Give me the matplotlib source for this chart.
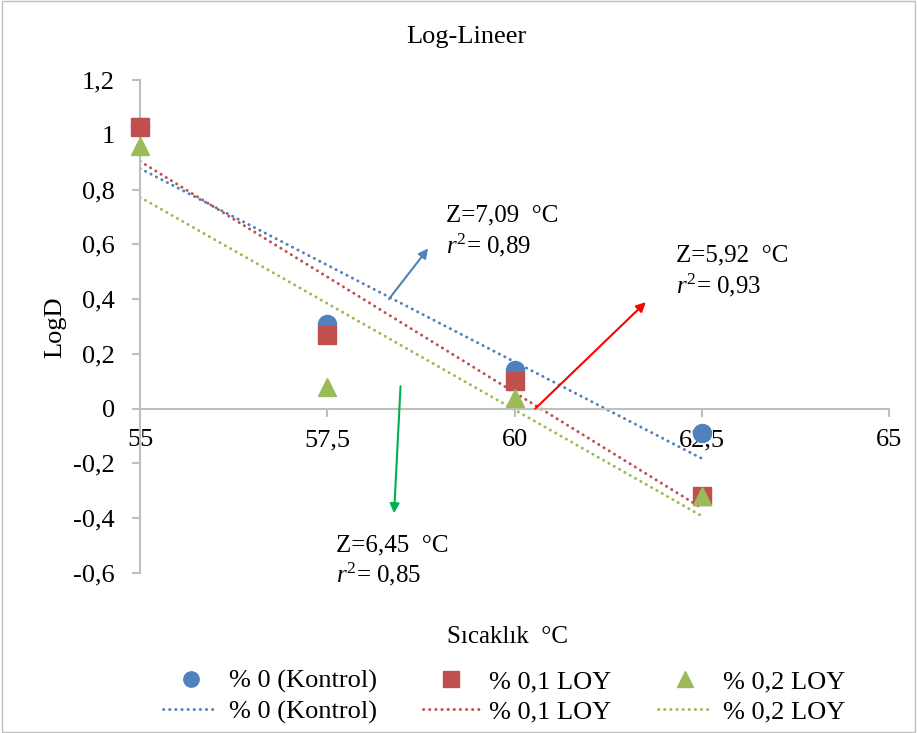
import matplotlib
matplotlib.use('Agg')
import matplotlib.pyplot as plt
from matplotlib.patches import Rectangle
from matplotlib.ticker import FuncFormatter
import numpy as np

plt.rcParams['font.family'] = ['Liberation Serif', 'DejaVu Serif']
plt.rcParams['mathtext.fontset'] = 'custom'
plt.rcParams['mathtext.it'] = 'Liberation Serif:italic'
plt.rcParams['mathtext.rm'] = 'Liberation Serif'

temps = [55, 57.5, 60, 62.5]
logd_kontrol = [1.03, 0.31, 0.14, -0.09]
logd_loy01 = [1.03, 0.27, 0.10, -0.32]
logd_loy02 = [0.96, 0.08, 0.04, -0.32]
labels = ['% 0 (Kontrol)', '% 0,1 LOY', '% 0,2 LOY']
colors = ['#4F81BD', '#C0504D', '#9BBB59']
markers = ['o', 's', '^']

fig = plt.figure(figsize=(9.17, 7.33), dpi=100)
ax = fig.add_axes([0.1527, 0.2183, 0.8168, 0.6726])
fig.patches.append(Rectangle((0.002, 0.002), 0.996, 0.996, transform=fig.transFigure,
                             fill=False, edgecolor='#BFBFBF', lw=1))

handles = []
for y, c, m, lab in zip([logd_kontrol, logd_loy01, logd_loy02], colors, markers, labels):
    sc, = ax.plot(temps, y, linestyle='none', marker=m, color=c, markersize=13,
                  zorder=3, label=lab, clip_on=False)
    k, b = np.polyfit(temps, y, 1)
    xs = np.array([temps[0], temps[-1]])
    ln, = ax.plot(xs, k * xs + b, linestyle=(0, (0.1, 2.0)), color=c, lw=2.1,
                  dash_capstyle='round', zorder=2, label=lab)
    handles += [sc, ln]

ax.set_xlim(55, 65)
ax.set_ylim(-0.6, 1.2)
ax.set_xticks([55, 57.5, 60, 62.5, 65])
ax.set_yticks(np.arange(-0.6, 1.21, 0.2))
fmt = FuncFormatter(lambda v, p: ('%g' % round(v, 2)).replace('.', ','))
ax.xaxis.set_major_formatter(fmt)
ax.yaxis.set_major_formatter(fmt)

for s in ['top', 'right']:
    ax.spines[s].set_visible(False)
ax.spines['bottom'].set_position(('data', 0))
ax.spines['left'].set_position(('data', 55))
for s in ['bottom', 'left']:
    ax.spines[s].set_color('#BFBFBF')
    ax.spines[s].set_linewidth(1.5)
ax.tick_params(colors='#BFBFBF', labelcolor='black', labelsize=19, length=6, width=1.5)
ax.tick_params(axis='x', pad=9)
ax.tick_params(axis='y', pad=12)

# Z value annotations
ax.annotate('', xy=(58.87, 0.593), xytext=(58.30, 0.392),
            arrowprops=dict(arrowstyle='-|>', color='#4F81BD', lw=1.5, mutation_scale=14))
ax.annotate('', xy=(61.78, 0.396), xytext=(60.25, -0.007),
            arrowprops=dict(arrowstyle='-|>', color='red', lw=1.5, mutation_scale=14))
ax.annotate('', xy=(58.39, -0.392), xytext=(58.48, 0.092),
            arrowprops=dict(arrowstyle='-|>', color='#00B050', lw=1.5, mutation_scale=14))

notes = [(59.09, 0.707, 0.597, '7,09', '0,89'),
         (62.16, 0.56, 0.45, '5,92', '0,93'),
         (57.62, -0.50, -0.605, '6,45', '0,85')]
for x0, yz, yr, z, r2 in notes:
    ax.text(x0, yz, 'Z=' + z + '  \u00b0C', fontsize=18, va='center', ha='left')
    ax.text(x0, yr, '$r^2$= ' + r2, fontsize=18, va='center', ha='left')

fig.text(0.509, 0.949, 'Log-Lineer', ha='center', va='center', fontsize=19)
fig.text(0.06, 0.554, 'LogD', ha='center', va='center', rotation=90, fontsize=19)
fig.text(0.553, 0.131, 'S\u0131cakl\u0131k  \u00b0C', ha='center', va='center', fontsize=18)

fig.legend(handles=handles, loc='center', bbox_to_anchor=(0.55, 0.0495), ncol=3,
           frameon=False, fontsize=19, handlelength=2.1, handletextpad=0.4,
           columnspacing=1.75, labelspacing=0.25, markerscale=0.85)

fig.savefig('out.png', dpi=100)
